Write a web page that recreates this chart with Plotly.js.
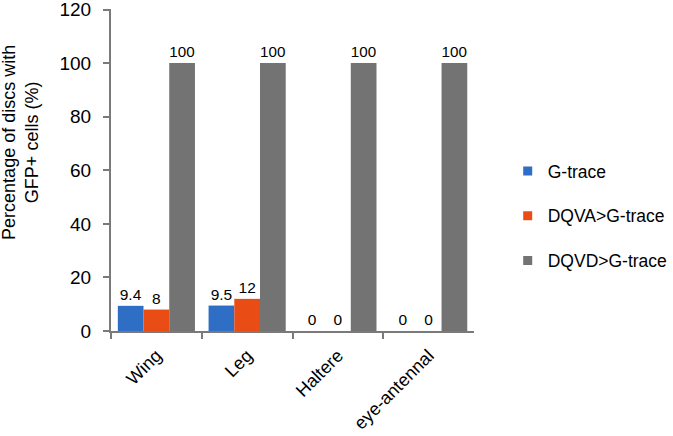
<!DOCTYPE html>
<html><head><meta charset="utf-8">
<script src="https://cdn.plot.ly/plotly-3.0.1.min.js"></script>
<style>body{margin:0;background:#fff}#c{width:673px;height:436px}</style>
</head><body><div id="c"></div>
<script>
const categories = ["Wing", "Leg", "Haltere", "eye-antennal"];
const gtrace = [9.4, 9.5, 0, 0];
const dqva = [8, 12, 0, 0];
const dqvd = [100, 100, 100, 100];
const seriesNames = ["G-trace", "DQVA>G-trace", "DQVD>G-trace"];
const colors = ["#2e6ec4", "#ea4c16", "#737373"];
const yTicks = [0, 20, 40, 60, 80, 100, 120];
const yTitle = "Percentage of discs with<br>GFP+ cells (%)";

const font = "Liberation Sans, Arial, sans-serif";
const bars = [gtrace, dqva, dqvd].map((vals, i) => ({
  type: "bar",
  x: categories,
  y: vals,
  name: seriesNames[i],
  showlegend: false,
  marker: {color: colors[i]},
  text: vals.map(v => String(v)),
  textposition: "outside",
  cliponaxis: false,
  textfont: {family: font, size: 15.5, color: "#000"},
  hoverinfo: "none"
}));
// legend entries (no data drawn), small square swatches like the reference
const legendEntries = seriesNames.map((n, i) => ({
  type: "scatter", mode: "markers",
  x: [categories[0]], y: [null],
  name: n, legendgroup: "g" + i,
  marker: {symbol: "square", size: 9, color: colors[i]},
  hoverinfo: "none"
}));

const layout = {
  width: 673, height: 436,
  margin: {l: 111, r: 0, t: 9, b: 105},
  paper_bgcolor: "#fff", plot_bgcolor: "#fff",
  barmode: "group", bargap: 0.15, bargroupgap: 0,
  showlegend: true,
  legend: {x: 0.7135, y: 0.357, yanchor: "middle", xanchor: "left",
           font: {family: font, size: 17.5, color: "#000"},
           tracegroupgap: 19, itemwidth: 30, bgcolor: "rgba(0,0,0,0)"},
  xaxis: {
    type: "category", domain: [0, 0.653], automargin: false,
    showline: true, linecolor: "#7a7a7a", linewidth: 2,
    ticks: "outside", tickson: "boundaries", ticklen: 6, tickwidth: 2, tickcolor: "#7a7a7a",
    ticklabelstandoff: 5,
    tickangle: -45, tickfont: {family: font, size: 18, color: "#000"},
    showgrid: false, zeroline: false
  },
  yaxis: {
    range: [0, 120.2], tickvals: yTicks, ticktext: yTicks.map(String), automargin: false,
    showline: true, linecolor: "#7a7a7a", linewidth: 2,
    ticks: "outside", ticklen: 6, tickwidth: 2, tickcolor: "#7a7a7a",
    ticklabelstandoff: 8, ticklabeloverflow: "allow",
    tickfont: {family: font, size: 19, color: "#000"},
    showgrid: false, zeroline: false
  },
  annotations: [{
    text: yTitle, xref: "paper", yref: "paper",
    x: -0.162, y: 0.587, xanchor: "center", yanchor: "middle",
    textangle: -90, showarrow: false,
    font: {family: font, size: 18, color: "#000"}
  }]
};
Plotly.newPlot("c", bars.concat(legendEntries), layout, {displayModeBar: false, staticPlot: true});
</script></body></html>
